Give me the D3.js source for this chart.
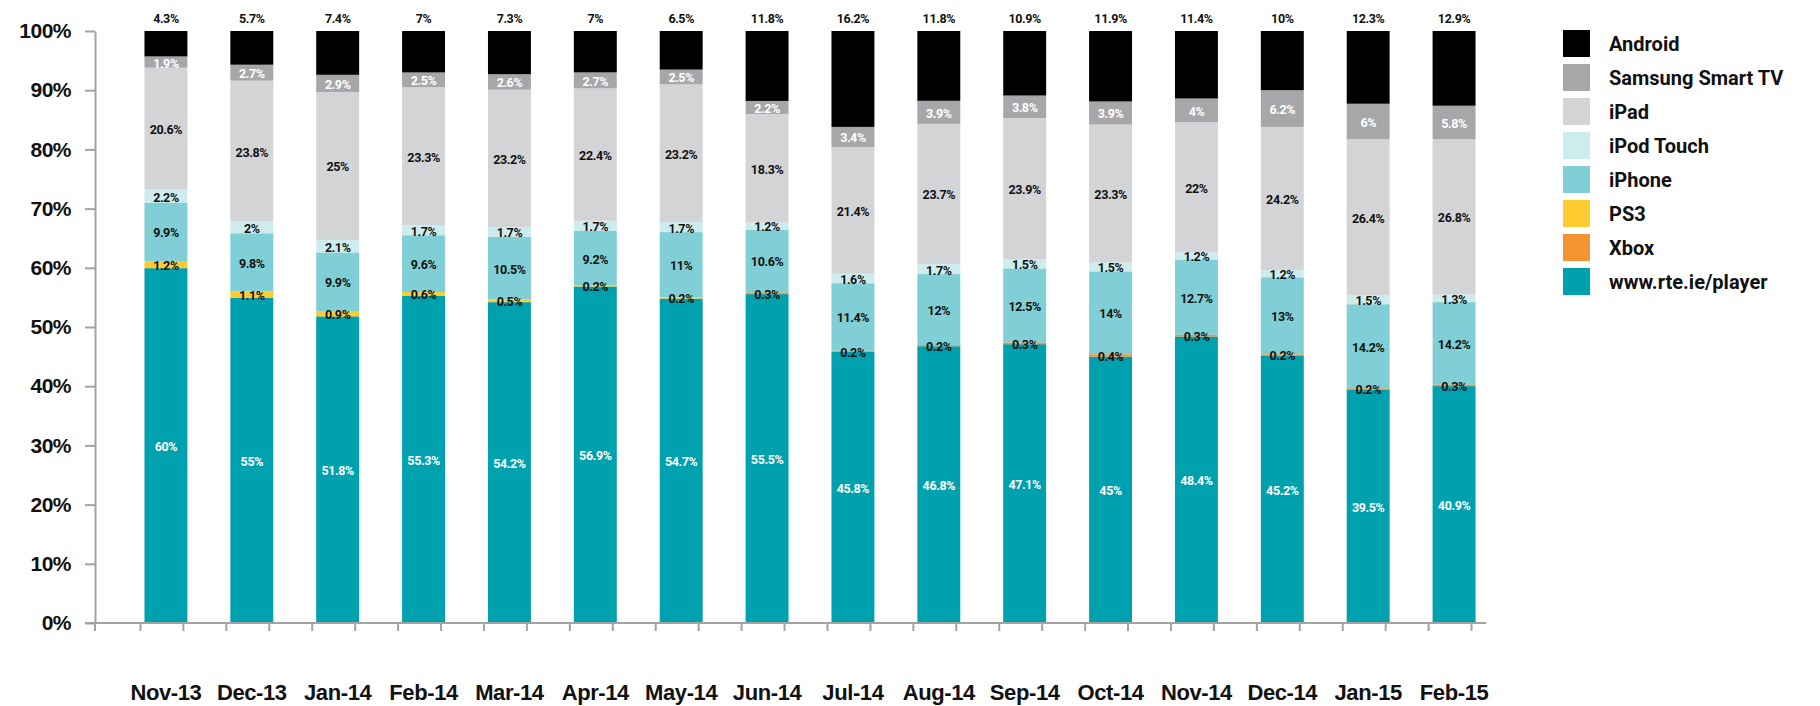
<!DOCTYPE html>
<html>
<head>
<meta charset="utf-8">
<title>RTE Player - share of views by device</title>
<script src="https://cdnjs.cloudflare.com/ajax/libs/d3/7.8.5/d3.min.js"></script>
<style>
  body { margin: 0; background: #fff; }
  svg { display: block; font-family: Roboto, "Liberation Sans", sans-serif; font-weight: 700; }
  .axis path, .axis line { stroke: #a3a3a3; stroke-width: 2; }
  .axis text { fill: #111; font-size: 21px; letter-spacing: -0.5px; }
  .seg-label { font-size: 12.5px; letter-spacing: -0.4px; }
  .month { font-size: 22px; fill: #111; letter-spacing: -0.4px; }
  .legend text { font-size: 20px; fill: #111; }
</style>
</head>
<body>
<svg width="1820" height="706"></svg>
<script>
const months = ['Nov-13','Dec-13','Jan-14','Feb-14','Mar-14','Apr-14','May-14','Jun-14',
                'Jul-14','Aug-14','Sep-14','Oct-14','Nov-14','Dec-14','Jan-15','Feb-15'];

const rtePlayer = [60, 55, 51.8, 55.3, 54.2, 56.9, 54.7, 55.5, 45.8, 46.8, 47.1, 45, 48.4, 45.2, 39.5, 40.9];
const xbox      = [0, 0, 0, 0, 0, 0, 0, 0.3, 0.2, 0.2, 0.3, 0.4, 0.3, 0.2, 0.2, 0.3];
const ps3       = [1.2, 1.1, 0.9, 0.6, 0.5, 0.2, 0.2, 0, 0, 0, 0, 0, 0, 0, 0, 0];
const iphone    = [9.9, 9.8, 9.9, 9.6, 10.5, 9.2, 11, 10.6, 11.4, 12, 12.5, 14, 12.7, 13, 14.2, 14.2];
const ipodTouch = [2.2, 2, 2.1, 1.7, 1.7, 1.7, 1.7, 1.2, 1.6, 1.7, 1.5, 1.5, 1.2, 1.2, 1.5, 1.3];
const ipad      = [20.6, 23.8, 25, 23.3, 23.2, 22.4, 23.2, 18.3, 21.4, 23.7, 23.9, 23.3, 22, 24.2, 26.4, 26.8];
const samsung   = [1.9, 2.7, 2.9, 2.5, 2.6, 2.7, 2.5, 2.2, 3.4, 3.9, 3.8, 3.9, 4, 6.2, 6, 5.8];
const android   = [4.3, 5.7, 7.4, 7, 7.3, 7, 6.5, 11.8, 16.2, 11.8, 10.9, 11.9, 11.4, 10, 12.3, 12.9];

// stacked bottom to top
const seriesNames = ['www.rte.ie/player', 'Xbox', 'PS3', 'iPhone', 'iPod Touch', 'iPad', 'Samsung Smart TV', 'Android'];
const seriesValues = [rtePlayer, xbox, ps3, iphone, ipodTouch, ipad, samsung, android];
const seriesColours = ['#00a1ae', '#f39332', '#ffcb2f', '#80cfd6', '#cdecee', '#d3d4d6', '#a7a7aa', '#000000'];
const labelColours = ['#ffffff', '#111', '#111', '#111', '#111', '#111', '#ffffff', '#111'];

const table = months.map((m, i) => {
    const row = {month: m};
    seriesNames.forEach((s, k) => row[s] = seriesValues[k][i]);
    return row;
});

const stacked = d3.stack()
    .keys(seriesNames)
    .offset(d3.stackOffsetExpand)(table);

const svg = d3.select('svg');

const x = d3.scaleBand()
    .domain(months)
    .range([123, 1497])
    .paddingInner(0.5)
    .paddingOuter(0.25);

const y = d3.scaleLinear().domain([0, 1]).range([623, 31]);

// bars
svg.append('g')
    .selectAll('g')
    .data(stacked)
    .enter()
    .append('g')
    .attr('fill', (d, i) => seriesColours[i])
    .selectAll('rect')
    .data(d => d.filter(p => p.data[d.key] > 0))
    .enter()
    .append('rect')
    .attr('x', d => x(d.data.month))
    .attr('width', x.bandwidth())
    .attr('y', d => y(d[1]))
    .attr('height', d => y(d[0]) - y(d[1]));

// segment labels on top of all bars (Android sits above the bar)
const labelGroups = svg.append('g')
    .selectAll('g')
    .data(stacked)
    .enter()
    .append('g')
    .attr('fill', (d, i) => labelColours[i]);

labelGroups.each(function (layer) {
    d3.select(this).selectAll('text')
        .data(layer.filter(p => p.data[layer.key] > 0))
        .enter()
        .append('text')
        .attr('class', 'seg-label')
        .attr('text-anchor', 'middle')
        .attr('dominant-baseline', 'central')
        .attr('x', d => x(d.data.month) + x.bandwidth() / 2)
        .attr('y', d => layer.key === 'Android' ? y(1) - 13 : y((d[0] + d[1]) / 2) + 1)
        .text(d => d.data[layer.key] + '%');
});

// y axis
svg.append('g')
    .attr('class', 'axis')
    .attr('transform', 'translate(95,0)')
    .call(d3.axisLeft(y)
        .tickValues(d3.range(0, 11).map(v => v / 10))
        .tickFormat(d3.format('.0%'))
        .tickSize(10)
        .tickSizeOuter(0)
        .tickPadding(14));

// x axis line with ticks at the bar edges
const xAxis = svg.append('g').attr('class', 'axis');
xAxis.append('line')
    .attr('x1', 85).attr('x2', 1486)
    .attr('y1', 623).attr('y2', 623);
xAxis.append('line')
    .attr('x1', 95).attr('x2', 95)
    .attr('y1', 623).attr('y2', 631);
xAxis.selectAll('.edge')
    .data(months.flatMap(m => [x(m) - 4, x(m) + x.bandwidth() - 4]))
    .enter()
    .append('line')
    .attr('class', 'edge')
    .attr('x1', d => d).attr('x2', d => d)
    .attr('y1', 623).attr('y2', 631);

// month labels
svg.append('g')
    .attr('transform', 'translate(0,623)')
    .call(d3.axisBottom(x).tickSize(0).tickPadding(61))
    .call(g => g.select('.domain').remove())
    .selectAll('text')
    .attr('class', 'month')
    .attr('font-family', null)
    .attr('font-size', null)
    .attr('fill', null);

// legend
const legend = svg.append('g')
    .attr('class', 'legend')
    .selectAll('g')
    .data(seriesNames.slice().reverse())
    .enter()
    .append('g')
    .attr('transform', (d, i) => `translate(1563,${30 + i * 34})`);

legend.append('rect')
    .attr('width', 27)
    .attr('height', 27)
    .attr('fill', d => seriesColours[seriesNames.indexOf(d)]);

legend.append('text')
    .attr('x', 46)
    .attr('y', 14)
    .attr('dominant-baseline', 'central')
    .text(d => d);
</script>
</body>
</html>
